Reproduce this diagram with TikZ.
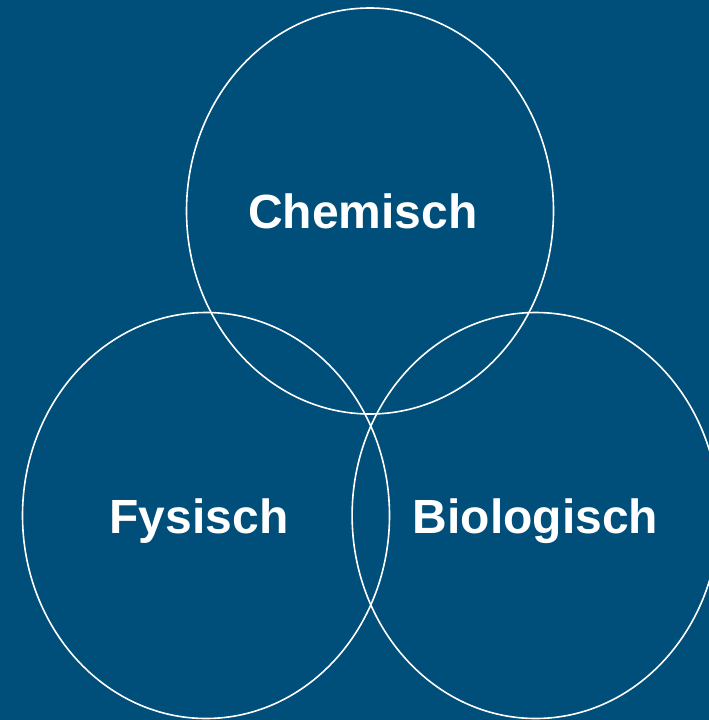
\documentclass[tikz,border=0pt]{standalone}
\usepackage{fontspec}
\setmainfont{Liberation Sans}
\usetikzlibrary{shapes.geometric,positioning}
\definecolor{bgblue}{RGB}{0,78,122}
\tikzset
{
    circ/.style  = {ellipse, draw=white, line width=1.6pt, minimum width=367pt, minimum height=406pt, inner sep=0pt},
    lbl/.style   = {text=white, font=\fontsize{48}{52}\selectfont\bfseries, anchor=base, inner sep=0pt}
}
\begin{document}
\begin{tikzpicture}[x=1pt, y=-1pt]
	\fill[bgblue] (0,0) rectangle (709,720);
	\useasboundingbox (0,0) rectangle (709,720);
	\node (chem) [circ] at (370,211) {};
	\node (fys)  [circ] at (206,515.5) {};
	\node (bio)  [circ, right=-39pt of fys] {};

	\node (tchem) [lbl] at ([xshift=-7pt, yshift=-17pt]chem.center) {Chemisch};
	\node (tfys)  [lbl] at ([xshift=-7pt, yshift=-17.5pt]fys.center) {Fysisch};
	\node (tbio)  [lbl] at ([yshift=-17.5pt]bio.center) {Biologisch};
\end{tikzpicture}
\end{document}
